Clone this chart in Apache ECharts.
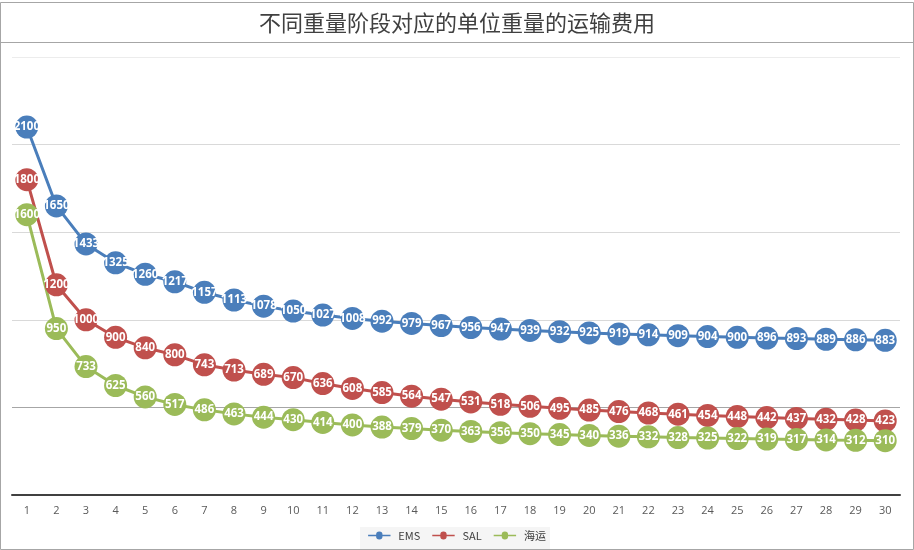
<!DOCTYPE html>
<html><head><meta charset="utf-8">
<script src="https://cdn.jsdelivr.net/npm/echarts@6/dist/echarts.min.js"></script>
<style>html,body{margin:0;padding:0;background:#fff}#c{width:914px;height:550px}</style>
</head><body><div id="c"></div>
<script>
const categories = ['1','2','3','4','5','6','7','8','9','10','11','12','13','14','15','16','17','18','19','20','21','22','23','24','25','26','27','28','29','30'];
const ems = [2100,1650,1433,1325,1260,1217,1157,1113,1078,1050,1027,1008,992,979,967,956,947,939,932,925,919,914,909,904,900,896,893,889,886,883];
const sal = [1800,1200,1000,900,840,800,743,713,689,670,636,608,585,564,547,531,518,506,495,485,476,468,461,454,448,442,437,432,428,423];
const sea = [1600,950,733,625,560,517,486,463,444,430,414,400,388,379,370,363,356,350,345,340,336,332,328,325,322,319,317,314,312,310];

const chart = echarts.init(document.getElementById('c'));
function mk(name, data, color){
  return {
    name, type:'line', data,
    symbol:'circle', symbolSize:23,
    lineStyle:{color, width:3},
    itemStyle:{color},
    label:{show:true, position:'inside', color:'#fff', fontSize:11.5, fontWeight:'bold', fontFamily:'Open Sans'},
    emphasis:{disabled:true}
  };
}
const icon = 'path://M0,3h10a4,4 0 1,1 8,0h10v2h-10a4,4 0 1,1 -8,0h-10z';
chart.setOption({
  animation:false,
  title:{text:'不同重量阶段对应的单位重量的运输费用', left:'center', top:7,
    textStyle:{fontFamily:'Noto Sans CJK SC', fontSize:22, fontWeight:'normal', color:'#404040'}},
  graphic:[
    {type:'rect', shape:{x:0.5,y:2.5,width:913,height:547}, style:{fill:'none', stroke:'#a6a6a6', lineWidth:1}, silent:true},
    {type:'line', shape:{x1:0,y1:42.5,x2:914,y2:42.5}, style:{stroke:'#a6a6a6', lineWidth:1}, silent:true},
    {type:'rect', shape:{x:360,y:527,width:190,height:22}, style:{fill:'#f5f5f5'}, z:-1, silent:true}
  ],
  legend:{bottom:4, left:'center', itemWidth:28, itemHeight:8, itemGap:12,
    textStyle:{color:'#404040', fontSize:11, fontFamily:'Noto Sans CJK SC'},
    data:[{name:'EMS', icon}, {name:'SAL', icon}, {name:'海运', icon}]},
  grid:{left:12, right:14, top:57, bottom:55, containLabel:false},
  xAxis:{type:'category', data:categories, boundaryGap:true,
    axisLine:{lineStyle:{color:'#404040', width:2}},
    axisTick:{show:false},
    axisLabel:{color:'#595959', fontSize:11, margin:10, fontFamily:'Open Sans'}},
  yAxis:{type:'value', min:0, max:2500, interval:500,
    axisLabel:{show:false}, axisLine:{show:false}, axisTick:{show:false},
    splitLine:{lineStyle:{color:['#d9d9d9','#a6a6a6','#d9d9d9','#d9d9d9','#d9d9d9','#ececec'], width:1}}},
  series:[mk('EMS', ems, '#4a7ebb'), mk('SAL', sal, '#c0504d'), mk('海运', sea, '#9bbb59')]
});
</script></body></html>
